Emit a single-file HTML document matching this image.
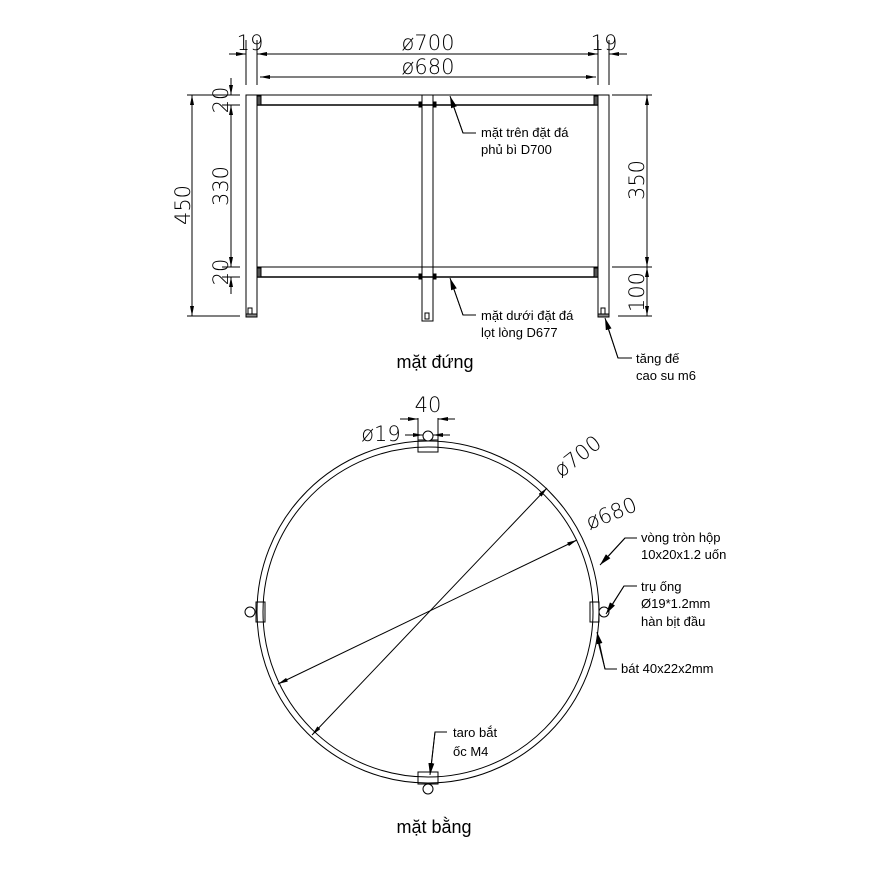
<!DOCTYPE html>
<html><head><meta charset="utf-8"><style>
body{margin:0;background:#fff}
svg{display:block}
text{font-family:"Liberation Sans",sans-serif;fill:#000}
.d{font-family:"DejaVu Sans","Liberation Sans",sans-serif;font-size:21px;font-weight:200}
.l{font-size:13px}
</style></head><body>
<svg width="874" height="879" viewBox="0 0 874 879" xmlns="http://www.w3.org/2000/svg">
<defs>
<marker id="a" viewBox="0 0 10 4" refX="10" refY="2" markerWidth="10" markerHeight="4" orient="auto-start-reverse" markerUnits="userSpaceOnUse"><path d="M0,0L10,2L0,4z" fill="#000"/></marker>
<marker id="b" viewBox="0 0 12 6" refX="12" refY="3" markerWidth="12" markerHeight="6" orient="auto" markerUnits="userSpaceOnUse"><path d="M0,0L12,3L0,6z" fill="#000"/></marker>
</defs>
<g stroke="#000" fill="none" stroke-width="1">
<rect x="246" y="95" width="11" height="221"/>
<rect x="422" y="95" width="11" height="226"/>
<rect x="598" y="95" width="11" height="221"/>
<line x1="246" y1="95" x2="609" y2="95"/>
<line x1="257" y1="105" x2="598" y2="105" stroke-width="1.6"/>
<line x1="257" y1="267" x2="598" y2="267"/>
<line x1="257" y1="277" x2="598" y2="277" stroke-width="1.6"/>
<rect x="257" y="96" width="4" height="9" fill="#555"/>
<rect x="594" y="96" width="4" height="9" fill="#555"/>
<rect x="257" y="268" width="4" height="9" fill="#555"/>
<rect x="594" y="268" width="4" height="9" fill="#555"/>
<rect x="419" y="102" width="3" height="5" fill="#000"/><rect x="433" y="102" width="3" height="5" fill="#000"/>
<rect x="419" y="274" width="3" height="5" fill="#000"/><rect x="433" y="274" width="3" height="5" fill="#000"/>
<rect x="248" y="308" width="4" height="6"/><rect x="425" y="313" width="4" height="6"/><rect x="601" y="308" width="4" height="6"/>
<rect x="246" y="314" width="11" height="3" fill="#888"/><rect x="598" y="314" width="11" height="3" fill="#888"/>
<line x1="246" y1="40" x2="246" y2="85"/><line x1="257" y1="40" x2="257" y2="85"/>
<line x1="598" y1="40" x2="598" y2="85"/><line x1="609" y1="40" x2="609" y2="85"/>
<line x1="229" y1="54" x2="246" y2="54" marker-end="url(#a)"/>
<line x1="257" y1="54" x2="598" y2="54" marker-start="url(#a)" marker-end="url(#a)"/>
<line x1="627" y1="54" x2="609" y2="54" marker-end="url(#a)"/>
<line x1="260" y1="77" x2="596" y2="77" marker-start="url(#a)" marker-end="url(#a)"/>
<line x1="187" y1="95" x2="240" y2="95"/><line x1="187" y1="316" x2="240" y2="316"/>
<line x1="222" y1="105" x2="240" y2="105"/><line x1="222" y1="267" x2="240" y2="267"/><line x1="222" y1="277" x2="240" y2="277"/>
<line x1="192" y1="95" x2="192" y2="316" marker-start="url(#a)" marker-end="url(#a)"/>
<line x1="231" y1="78" x2="231" y2="95" marker-end="url(#a)"/>
<line x1="231" y1="105" x2="231" y2="267" marker-start="url(#a)" marker-end="url(#a)"/>
<line x1="231" y1="294" x2="231" y2="277" marker-end="url(#a)"/>
<line x1="612" y1="95" x2="652" y2="95"/><line x1="612" y1="267" x2="652" y2="267"/><line x1="618" y1="316" x2="652" y2="316"/>
<line x1="647" y1="95" x2="647" y2="267" marker-start="url(#a)" marker-end="url(#a)"/>
<line x1="647" y1="267" x2="647" y2="316" marker-start="url(#a)" marker-end="url(#a)"/>
<polyline points="476,133 463,133 451,99"/><line x1="463" y1="133" x2="450" y2="96" marker-end="url(#b)"/>
<polyline points="476,315 463,315 451,281"/><line x1="463" y1="315" x2="450" y2="278" marker-end="url(#b)"/>
<polyline points="632,358 618,358 606,322"/><line x1="618" y1="358" x2="605" y2="318" marker-end="url(#b)"/>
<circle cx="428" cy="612" r="171"/>
<circle cx="428" cy="612" r="165"/>
<line x1="312" y1="735" x2="547" y2="488" marker-start="url(#a)" marker-end="url(#a)"/>
<line x1="278" y1="684" x2="577" y2="540" marker-start="url(#a)" marker-end="url(#a)"/>
<rect x="418" y="440" width="20" height="12"/><circle cx="428" cy="436" r="5" fill="#fff"/>
<rect x="418" y="772" width="20" height="12"/><circle cx="428" cy="789" r="5" fill="#fff"/>
<rect x="256" y="602" width="9" height="20"/><circle cx="250" cy="612" r="5" fill="#fff"/>
<rect x="590" y="602" width="9" height="20"/><circle cx="604" cy="612" r="5" fill="#fff"/>
<line x1="418" y1="418" x2="418" y2="440"/><line x1="438" y1="418" x2="438" y2="440"/>
<line x1="400" y1="419" x2="418" y2="419" marker-end="url(#a)"/>
<line x1="455" y1="419" x2="438" y2="419" marker-end="url(#a)"/>
<line x1="405" y1="435" x2="423" y2="435" marker-end="url(#a)"/>
<line x1="450" y1="435" x2="433" y2="435" marker-end="url(#a)"/>
<polyline points="637,538 625,538 603,562"/><line x1="625" y1="538" x2="600" y2="565" marker-end="url(#b)"/>
<polyline points="637,586 624,586 609,610"/><line x1="624" y1="586" x2="606" y2="614" marker-end="url(#b)"/>
<polyline points="617,669 605,669 597,637"/><line x1="605" y1="669" x2="597" y2="632" marker-end="url(#b)"/>
<polyline points="447,732 435,732 431,768"/><line x1="435" y1="732" x2="430" y2="775" marker-end="url(#b)"/>
</g>
<text class="d" x="250" y="50" text-anchor="middle">19</text>
<text class="d" x="428" y="50" text-anchor="middle">ø700</text>
<text class="d" x="604" y="50" text-anchor="middle">19</text>
<text class="d" x="428" y="74" text-anchor="middle">ø680</text>
<text class="d" transform="translate(190,205) rotate(-90)" text-anchor="middle">450</text>
<text class="d" transform="translate(228,100) rotate(-90)" text-anchor="middle">20</text>
<text class="d" transform="translate(228,186) rotate(-90)" text-anchor="middle">330</text>
<text class="d" transform="translate(228,272) rotate(-90)" text-anchor="middle">20</text>
<text class="d" transform="translate(644,180) rotate(-90)" text-anchor="middle">350</text>
<text class="d" transform="translate(644,292) rotate(-90)" text-anchor="middle">100</text>
<text class="d" x="428" y="412" text-anchor="middle">40</text>
<text class="d" x="381" y="441" text-anchor="middle">ø19</text>
<text class="d" transform="translate(582,462) rotate(-38)" text-anchor="middle">ø700</text>
<text class="d" transform="translate(614,520) rotate(-22)" text-anchor="middle">ø680</text>
<text class="l" x="481" y="137">mặt trên đặt đá</text>
<text class="l" x="481" y="154">phủ bì D700</text>
<text class="l" x="481" y="320">mặt dưới đặt đá</text>
<text class="l" x="481" y="337">lọt lòng D677</text>
<text class="l" x="636" y="363">tăng đế</text>
<text class="l" x="636" y="380">cao su m6</text>
<text x="435" y="368" text-anchor="middle" font-size="18">mặt đứng</text>
<text class="l" x="641" y="542">vòng tròn hộp</text>
<text class="l" x="641" y="559">10x20x1.2 uốn</text>
<text class="l" x="641" y="591">trụ ống</text>
<text class="l" x="641" y="608">Ø19*1.2mm</text>
<text class="l" x="641" y="626">hàn bịt đầu</text>
<text class="l" x="621" y="673">bát 40x22x2mm</text>
<text class="l" x="453" y="737">taro bắt</text>
<text class="l" x="453" y="756">ốc M4</text>
<text x="434" y="833" text-anchor="middle" font-size="18">mặt bằng</text>
</svg>
</body></html>
